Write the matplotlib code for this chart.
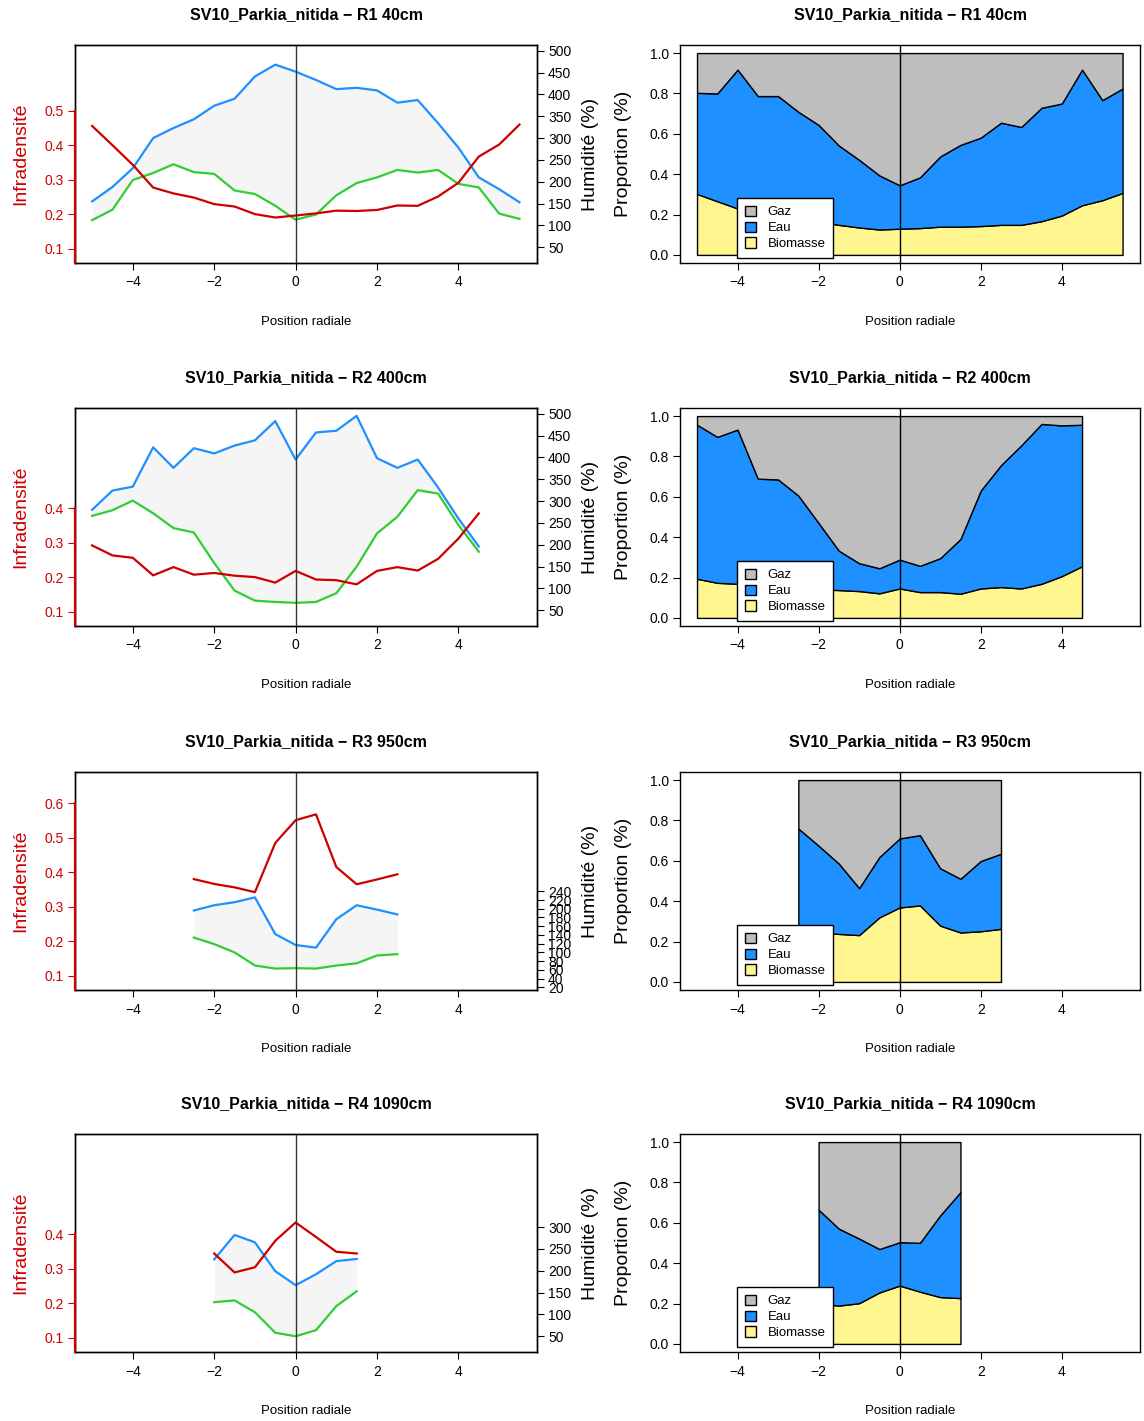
import matplotlib.pyplot as plt
import numpy as np
from matplotlib.patches import Patch

plt.rcParams['font.family'] = ['Liberation Sans', 'DejaVu Sans']

RED = '#CD0000'
BLUE = '#1E90FF'
GREEN = '#32CD32'
FILL = '#F5F5F5'
GAZ_COL = '#BEBEBE'
BIO_COL = '#FFF68F'

titles = ['SV10_Parkia_nitida − R1 40cm', 'SV10_Parkia_nitida − R2 400cm',
          'SV10_Parkia_nitida − R3 950cm', 'SV10_Parkia_nitida − R4 1090cm']

# radial positions of each section
pos_r1 = [-5, -4.5, -4, -3.5, -3, -2.5, -2, -1.5, -1, -0.5, 0, 0.5, 1, 1.5, 2, 2.5, 3, 3.5, 4, 4.5, 5, 5.5]
pos_r2 = [-5, -4.5, -4, -3.5, -3, -2.5, -2, -1.5, -1, -0.5, 0, 0.5, 1, 1.5, 2, 2.5, 3, 3.5, 4, 4.5]
pos_r3 = [-2.5, -2, -1.5, -1, -0.5, 0, 0.5, 1, 1.5, 2, 2.5]
pos_r4 = [-2, -1.5, -1, -0.5, 0, 0.5, 1, 1.5]

# infradensite (left axis)
infra_r1 = [0.456, 0.40, 0.343, 0.277, 0.260, 0.248, 0.229, 0.222, 0.200, 0.190, 0.196,
            0.202, 0.210, 0.209, 0.212, 0.225, 0.224, 0.251, 0.291, 0.367, 0.402, 0.460]
infra_r2 = [0.292, 0.263, 0.256, 0.205, 0.229, 0.207, 0.212, 0.204, 0.200, 0.184,
            0.218, 0.193, 0.191, 0.179, 0.218, 0.229, 0.219, 0.253, 0.312, 0.385]
infra_r3 = [0.380, 0.366, 0.356, 0.342, 0.485, 0.551, 0.568, 0.415, 0.365, 0.379, 0.394]
infra_r4 = [0.344, 0.289, 0.304, 0.381, 0.434, 0.392, 0.349, 0.344]

# humidite max (blue) / min (green), right axis
hum_max_r1 = [155, 188, 231, 300, 323, 343, 374, 390, 441, 468, 452, 433, 412, 415, 409, 381, 387, 334, 278, 210, 183, 153]
hum_min_r1 = [112, 136, 204, 220, 240, 222, 218, 180, 172, 145, 113, 125, 169, 197, 210, 227, 221, 227, 195, 187, 127, 115]
hum_max_r2 = [280, 324, 333, 423, 376, 421, 409, 427, 439, 483, 395, 457, 461, 495, 398, 376, 395, 331, 260, 196]
hum_min_r2 = [266, 279, 301, 272, 238, 228, 158, 95, 72, 69, 67, 69, 89, 150, 226, 264, 325, 317, 245, 184]
hum_max_r3 = [196, 208, 215, 226, 142, 117, 111, 176, 208, 198, 187]
hum_min_r3 = [134, 119, 100, 70, 63, 64, 63, 70, 75, 93, 96]
hum_max_r4 = [226, 282, 265, 199, 167, 192, 222, 227]
hum_min_r4 = [128, 132, 105, 58, 50, 64, 119, 153]

# proportions (right panels)
bio_r1 = [0.302, 0.266, 0.230, 0.21, 0.195, 0.18, 0.165, 0.149, 0.136, 0.126, 0.130,
          0.133, 0.140, 0.140, 0.143, 0.149, 0.149, 0.167, 0.195, 0.246, 0.271, 0.307]
eau_r1 = [0.501, 0.534, 0.688, 0.577, 0.592, 0.529, 0.479, 0.393, 0.335, 0.268, 0.215,
          0.251, 0.348, 0.405, 0.438, 0.506, 0.485, 0.562, 0.555, 0.672, 0.496, 0.517]
bio_r2 = [0.194, 0.174, 0.169, 0.160, 0.155, 0.150, 0.142, 0.138, 0.133, 0.122,
          0.146, 0.128, 0.128, 0.120, 0.146, 0.153, 0.146, 0.169, 0.207, 0.256]
eau_r2 = [0.763, 0.723, 0.764, 0.530, 0.531, 0.456, 0.328, 0.195, 0.138, 0.124,
          0.143, 0.130, 0.168, 0.271, 0.485, 0.604, 0.709, 0.792, 0.747, 0.701]
bio_r3 = [0.250, 0.245, 0.238, 0.232, 0.320, 0.369, 0.379, 0.279, 0.245, 0.251, 0.263]
eau_r3 = [0.510, 0.430, 0.348, 0.233, 0.299, 0.342, 0.348, 0.284, 0.266, 0.348, 0.372]
bio_r4 = [0.200, 0.190, 0.202, 0.255, 0.289, 0.259, 0.232, 0.227]
eau_r4 = [0.465, 0.381, 0.320, 0.215, 0.215, 0.242, 0.405, 0.525]

infra_ticks = [[0.1, 0.2, 0.3, 0.4, 0.5], [0.1, 0.2, 0.3, 0.4],
               [0.1, 0.2, 0.3, 0.4, 0.5, 0.6], [0.1, 0.2, 0.3, 0.4]]
hum_ticks = [list(range(50, 501, 50)), list(range(50, 501, 50)),
             list(range(20, 241, 20)), list(range(50, 301, 50))]

positions = [pos_r1, pos_r2, pos_r3, pos_r4]
infras = [infra_r1, infra_r2, infra_r3, infra_r4]
hum_maxs = [hum_max_r1, hum_max_r2, hum_max_r3, hum_max_r4]
hum_mins = [hum_min_r1, hum_min_r2, hum_min_r3, hum_min_r4]
bios = [bio_r1, bio_r2, bio_r3, bio_r4]
eaux = [eau_r1, eau_r2, eau_r3, eau_r4]

XLIM = (-5.42, 5.93)
W, H = 1144, 1421
fig = plt.figure(figsize=(W / 100, H / 100), dpi=100)

row_bottoms = [263, 626, 990, 1352]
box_h = 218


def style_x(ax):
    ax.set_xlim(*XLIM)
    ax.set_xticks([-4, -2, 0, 2, 4])
    ax.tick_params(axis='x', direction='out', length=5, width=0.8, labelsize=10, pad=4)
    ax.set_xlabel('Position radiale', fontsize=9.5, labelpad=19)
    for s in ax.spines.values():
        s.set_linewidth(1.0)


for i in range(4):
    bottom = 1 - row_bottoms[i] / H
    # ---- left panel: infradensite + humidite
    ax = fig.add_axes([75 / W, bottom, 462 / W, box_h / H])
    tw = ax.twinx()
    x = positions[i]
    tw.fill_between(x, hum_mins[i], hum_maxs[i], color=FILL, lw=0)
    tw.plot(x, hum_maxs[i], color=BLUE, lw=1.6)
    tw.plot(x, hum_mins[i], color=GREEN, lw=1.6)
    tw.set_ylim(14, 513)
    tw.set_yticks(hum_ticks[i])
    tw.tick_params(axis='y', direction='out', length=5, width=0.8, labelsize=10, pad=3)
    tw.set_ylabel('Humidité (%)', fontsize=14)
    tw.yaxis.set_label_coords(1.097, 0.5)

    ax.set_zorder(tw.get_zorder() + 1)
    ax.patch.set_visible(False)
    ax.plot(x, infras[i], color=RED, lw=1.6)
    ax.axvline(0, color='#333333', lw=1)
    ax.set_ylim(0.058, 0.691)
    ax.set_yticks(infra_ticks[i])
    ax.tick_params(axis='y', colors=RED, direction='out', length=5, width=0.8, labelsize=10, pad=3)
    ax.plot([0, 0], [0.058, infra_ticks[i][-1]], color=RED, lw=1.6,
            transform=ax.get_yaxis_transform(), clip_on=False, zorder=5)
    ax.set_ylabel('Infradensité', fontsize=14, color=RED)
    ax.yaxis.set_label_coords(-0.1, 0.5)
    ax.set_title(titles[i], fontsize=11.5, fontweight='bold', pad=19)
    style_x(ax)
    for s in tw.spines.values():
        s.set_linewidth(1.0)

    # ---- right panel: proportions
    axr = fig.add_axes([680 / W, bottom, 460 / W, box_h / H])
    bio = np.array(bios[i])
    eau = np.array(eaux[i])
    gaz = 1 - bio - eau
    axr.stackplot(x, bio, eau, gaz, colors=[BIO_COL, BLUE, GAZ_COL],
                  edgecolor='black', linewidth=1)
    axr.axvline(0, color='black', lw=1)
    axr.set_ylim(-0.04, 1.04)
    axr.set_yticks([0, 0.2, 0.4, 0.6, 0.8, 1.0])
    axr.set_yticklabels(['0.0', '0.2', '0.4', '0.6', '0.8', '1.0'])
    axr.tick_params(axis='y', direction='out', length=5, width=0.8, labelsize=10, pad=3)
    axr.set_ylabel('Proportion (%)', fontsize=14)
    axr.yaxis.set_label_coords(-0.105, 0.5)
    axr.set_title(titles[i], fontsize=11.5, fontweight='bold', pad=19)
    style_x(axr)
    handles = [Patch(facecolor=GAZ_COL, edgecolor='black', label='Gaz'),
               Patch(facecolor=BLUE, edgecolor='black', label='Eau'),
               Patch(facecolor=BIO_COL, edgecolor='black', label='Biomasse')]
    leg = axr.legend(handles=handles, loc='lower left', bbox_to_anchor=(0.124, 0.023),
                     borderaxespad=0, fontsize=9.5, frameon=True, fancybox=False,
                     framealpha=1, edgecolor='black', handlelength=0.8, handleheight=0.8,
                     handletextpad=0.9, labelspacing=0.25, borderpad=0.6)
    leg.get_frame().set_linewidth(1.0)
    leg.set_zorder(10)

fig.savefig('out.png', dpi=100)
